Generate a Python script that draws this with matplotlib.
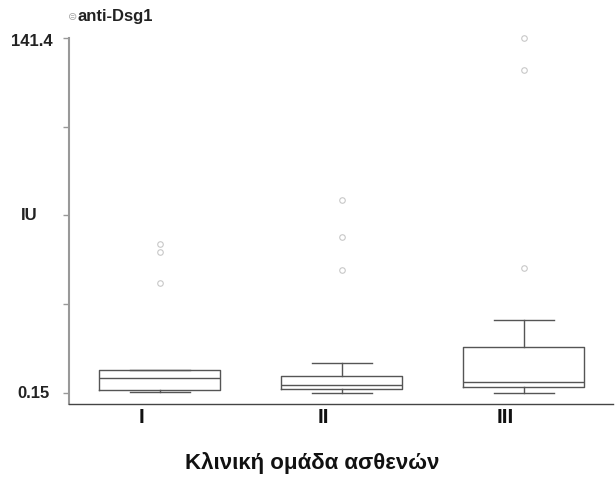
import matplotlib
matplotlib.use("Agg")
import matplotlib.pyplot as plt

groups = ["I", "II", "III"]
q1 = [1.3, 1.7, 2.5]
med = [6.1, 3.3, 4.5]
q3 = [9.3, 6.9, 18.5]
whislo = [0.55, 0.15, 0.15]
whishi = [9.3, 12.1, 29.2]
fliers = [[59.4, 56.3, 43.9], [76.9, 62.2, 49.1], [49.9, 128.7, 141.4]]
ytick_values = [0.15, 35.46, 70.78, 106.09, 141.4]
ylabel_text = {"141.4": 141.4, "IU": 70.78, "0.15": 0.15}
title = "anti-Dsg1"
xlabel = "Κλινική ομάδα ασθενών"

plt.rcParams["font.family"] = ["Liberation Sans", "DejaVu Sans"]

fig = plt.figure(figsize=(6.16, 4.79), dpi=100)
ax = fig.add_axes([69/616, 75/479, 544/616, 366/479])

stats = []
for i, g in enumerate(groups):
    stats.append(dict(label=g, q1=q1[i], med=med[i], q3=q3[i],
                      whislo=whislo[i], whishi=whishi[i], fliers=fliers[i]))
positions = list(range(1, len(groups) + 1))
box_c = "#555555"
ax.bxp(stats, positions=positions, widths=0.665, capwidths=0.33,
       boxprops=dict(color=box_c, lw=1.0),
       medianprops=dict(color=box_c, lw=1.0),
       whiskerprops=dict(color=box_c, lw=1.0),
       capprops=dict(color=box_c, lw=1.0),
       flierprops=dict(marker="o", markersize=4, markerfacecolor="none",
                       markeredgecolor="#c8c8c8", markeredgewidth=0.8),
       manage_ticks=False)
for art in ax.lines:
    art.set_clip_on(False)

ax.set_xlim(0.5, 3.49)
ax.set_ylim(-4.23, 141.4)

ax.set_xticks([p - 0.1 for p in positions])
ax.set_xticklabels(groups, fontsize=15, fontweight="bold", color="#111111")
ax.tick_params(axis="x", length=0, pad=3)

ax.set_yticks(ytick_values)
ax.set_yticklabels([])
ax.tick_params(axis="y", direction="out", length=4, color="#999999", width=1.0)

for s in ["top", "right"]:
    ax.spines[s].set_visible(False)
ax.spines["left"].set_color("#999999")
ax.spines["left"].set_linewidth(1.5)
ax.spines["bottom"].set_color("#444444")
ax.spines["bottom"].set_linewidth(1.0)

offsets = {"141.4": (-16, -4), "IU": (-32, 0), "0.15": (-19, -1)}
for txt, val in ylabel_text.items():
    ax.annotate(txt, xy=(0, val), xycoords=("axes fraction", "data"),
                xytext=offsets[txt], textcoords="offset pixels",
                ha="right", va="center", fontsize=12, fontweight="bold",
                color="#222222")

fig.text(78/616, 1 - 17/479, title, ha="left", va="center",
         fontsize=12, fontweight="bold", color="#222222")
fig.text(73/616, 1 - 17/479, "⊜", ha="center", va="center",
         fontsize=8, color="#aaaaaa", family=["DejaVu Sans"])

fig.text(312.5/616, 1 - 463/479, xlabel, ha="center", va="center",
         fontsize=16, fontweight="bold", color="#111111")

fig.savefig("out.png", dpi=100)
